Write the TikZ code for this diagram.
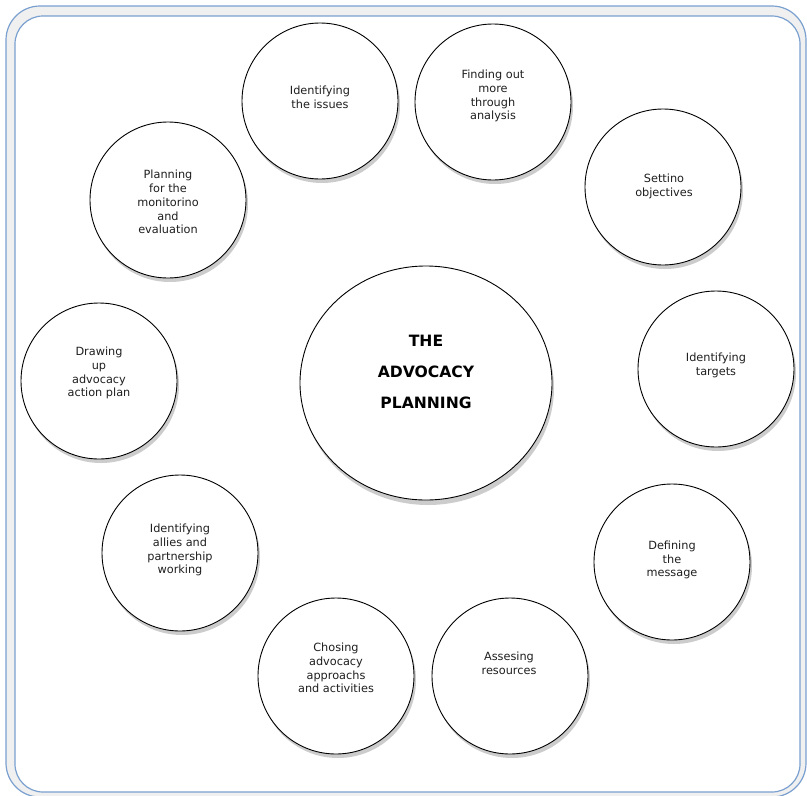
\documentclass[tikz,border=0pt]{standalone}
\usepackage{fontspec}
\setmainfont{DejaVu Sans}
\usetikzlibrary{shapes.geometric,shadows}
\definecolor{frameblue}{RGB}{122,160,208}
\tikzset{
  topic/.style={circle,draw=black,line width=0.9pt,fill=white,minimum size=156pt,inner sep=0pt,
    drop shadow={shadow xshift=2pt,shadow yshift=-4pt,opacity=0.2,fill=black}},
  topictext/.style={align=center,font=\fontsize{11.3}{13.8}\selectfont,text=black!88},
  hub/.style={ellipse,draw=black,line width=0.9pt,fill=white,minimum width=252pt,minimum height=234pt,inner sep=0pt,
    drop shadow={shadow xshift=2pt,shadow yshift=-5pt,opacity=0.2,fill=black}},
  hubtext/.style={align=center,font=\fontsize{15.6}{31}\selectfont\bfseries}
}
\begin{document}
\begin{tikzpicture}[x=1pt,y=-1pt]
  \useasboundingbox (0,0) rectangle (807,796);
  % frame
  \draw[frameblue,line width=1.2pt,fill=black!6,rounded corners=34pt] (6,6) rectangle (806,797);
  \draw[frameblue,line width=1.2pt,fill=white,rounded corners=28pt] (15,16) rectangle (800,792);
  % hub
  \node[hub] (hub) at (426,383) {};
  \node[hubtext] (hubt) at (426,372) {THE\\ADVOCACY\\PLANNING};
  % steps around the hub
  \node[topic] (c1) at (320,101) {};
  \node[topic] (c2) at (493,102) {};
  \node[topic] (c3) at (663,187) {};
  \node[topic] (c4) at (716,369) {};
  \node[topic] (c5) at (672,562) {};
  \node[topic] (c6) at (510,676) {};
  \node[topic] (c7) at (336,676) {};
  \node[topic] (c8) at (180,553) {};
  \node[topic] (c9) at (99,381) {};
  \node[topic] (c10) at (168,200) {};
  \node[topictext] (t1) at (320,97) {Identifying\\the issues};
  \node[topictext] (t2) at (493,96) {Finding out\\more\\through\\analysis};
  \node[topictext] (t3) at (664,186) {Settino\\objectives};
  \node[topictext] (t4) at (716,365) {Identifying\\targets};
  \node[topictext] (t5) at (672,560) {Defining\\the\\message};
  \node[topictext] (t6) at (509,663) {Assesing\\resources};
  \node[topictext] (t7) at (336,668) {Chosing\\advocacy\\approachs\\and activities};
  \node[topictext] (t8) at (180,550) {Identifying\\allies and\\partnership\\working};
  \node[topictext] (t9) at (99,373) {Drawing\\up\\advocacy\\action plan};
  \node[topictext] (t10) at (168,202) {Planning\\for the\\monitorino\\and\\evaluation};
\end{tikzpicture}
\end{document}
